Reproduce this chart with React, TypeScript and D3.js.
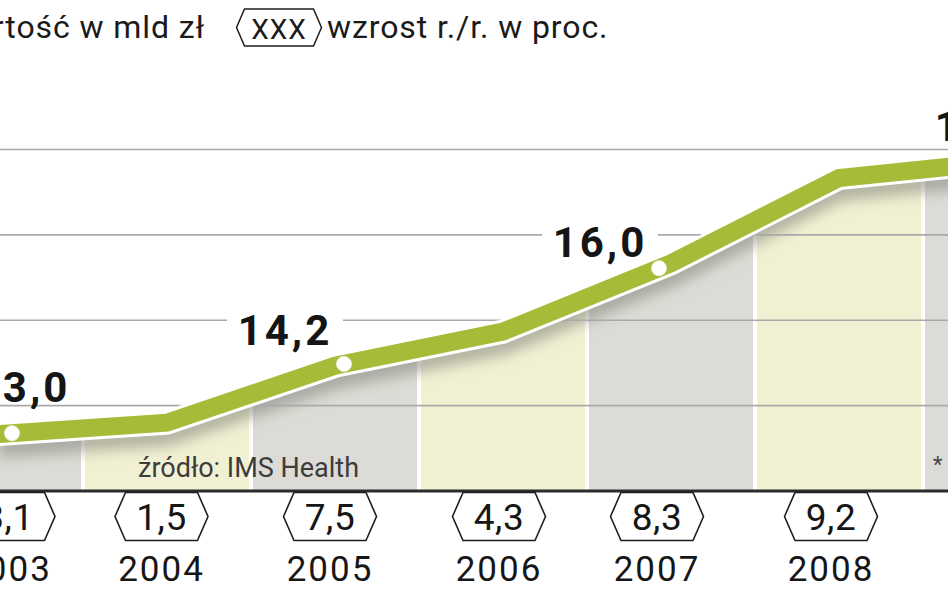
import React from 'react';
import * as d3 from 'd3';

// ---- data ----
const years = ['2003', '2004', '2005', '2006', '2007', '2008', '2009'];
const values = [13.0, 13.2, 14.2, 14.8, 16.0, 17.5, 17.8];
const growth = ['3,1', '1,5', '7,5', '4,3', '8,3', '9,2', '2,0'];
const labeledYears = ['2003', '2005', '2007', '2009'];
const valueLabels = ['13,0', '14,2', '16,0', '17,8'];
const dottedYears = ['2003', '2005', '2007'];
const gridTicks = [13.5, 15, 16.5, 18];
const titleText = 'Wartość w mld zł';
const legendSample = 'XXX';
const legendText = 'wzrost r./r. w proc.';
const sourceText = 'źródło: IMS Health';
const footnoteMark = '*';

// ---- layout ----
const W = 948;
const H = 593;
const FONT = 'Roboto, "DejaVu Sans", sans-serif';
const BASE_Y = 491;
const STEP = 168;
const X0 = -85;
const labelShift = [9.5, -5.5, -5, -4, -14, -8, 0];
const dotShift: Record<string, number> = { '2003': 13, '2005': 9, '2007': -12 };
const valLabelDx = [24, -50, -71, -25];
const valLabelDy = [-32, -21, -6, -20];
const colColors = ['#dcdbd5', '#f1f0d2'];
const GREEN = '#a5bc38';

function hexPath(cx: number, top: number, w: number, h: number, tip: number) {
  const l = cx - w / 2;
  const r = cx + w / 2;
  const m = top + h / 2;
  const b = top + h;
  return `M${l},${m}L${l + tip},${top}L${r - tip},${top}L${r},${m}L${r - tip},${b}L${l + tip},${b}Z`;
}

export default function App() {
  const x = d3.scaleBand<string>().domain(years).range([X0, X0 + STEP * years.length]).padding(0);
  const bw = x.bandwidth();
  const cx = (yr: string) => (x(yr) as number) + bw / 2;
  const y = d3.scaleLinear().domain([12, 18]).range([BASE_Y, 149.5]);

  const pts = years.map((yr, i) => ({ yr, v: values[i] }));
  const lineGen = d3.line<{ yr: string; v: number }>().x((d) => cx(d.yr)).y((d) => y(d.v));
  const areaGen = d3
    .area<{ yr: string; v: number }>()
    .x((d) => cx(d.yr))
    .y0(BASE_Y)
    .y1((d) => y(d.v));
  const linePath = lineGen(pts) || '';
  const areaPath = areaGen(pts) || '';

  const lineYAt = (px: number) => {
    const xs = pts.map((p) => cx(p.yr));
    for (let i = 0; i < xs.length - 1; i++) {
      if (px >= xs[i] && px <= xs[i + 1]) {
        const t = (px - xs[i]) / (xs[i + 1] - xs[i]);
        return y(pts[i].v) + t * (y(pts[i + 1].v) - y(pts[i].v));
      }
    }
    return y(pts[0].v);
  };

  return (
    <svg
      width={W}
      height={H}
      viewBox={`0 0 ${W} ${H}`}
      style={{ position: 'absolute', left: 0, top: 0, background: '#fff' }}
      fontFamily={FONT}
    >
      <defs>
        <clipPath id="underLine">
          <path d={areaPath} />
        </clipPath>
        <filter id="blur" x="-10%" y="-50%" width="120%" height="200%">
          <feGaussianBlur stdDeviation="7" />
        </filter>
      </defs>
      <rect x={0} y={0} width={W} height={H} fill="#fff" />

      {/* columns under the line */}
      <g clipPath="url(#underLine)">
        {years.map((yr, i) => (
          <rect
            key={yr}
            x={(x(yr) as number) + 2}
            y={0}
            width={bw - 4}
            height={BASE_Y}
            fill={colColors[i % 2]}
          />
        ))}
        <path
          d={linePath}
          transform="translate(0,13)"
          fill="none"
          stroke="#85857f"
          strokeOpacity={0.6}
          strokeWidth={20}
          filter="url(#blur)"
        />
      </g>

      {/* gridlines */}
      {gridTicks.map((t) => (
        <line key={t} x1={0} x2={W} y1={y(t)} y2={y(t)} stroke="#a9a9a9" strokeWidth={1.6} />
      ))}

      {/* value labels */}
      {labeledYears.map((yr, i) => {
        const v = values[years.indexOf(yr)];
        const lx = cx(yr) + valLabelDx[i];
        const ly = y(v) + valLabelDy[i];
        return (
          <g key={yr}>
            <rect x={lx - 58} y={ly - 32} width={116} height={33} fill="#fff" />
            <text
              x={lx}
              y={ly}
              textAnchor="middle"
              fontSize={42}
              fontWeight={700}
              letterSpacing={3}
              fill="#151515"
            >
              {valueLabels[i]}
            </text>
          </g>
        );
      })}

      {/* line */}
      <path d={linePath} fill="none" stroke="#fff" strokeWidth={24} strokeLinejoin="miter" />
      <path d={linePath} fill="none" stroke={GREEN} strokeWidth={18} strokeLinejoin="miter" />

      {/* dots */}
      {dottedYears.map((yr) => {
        const px = cx(yr) + dotShift[yr];
        return <circle key={yr} cx={px} cy={lineYAt(px)} r={7.5} fill="#fff" stroke="#eef0e0" strokeWidth={1} />;
      })}

      {/* source + footnote */}
      <text x={138} y={477} fontSize={27} fill="#3c3c3c">
        {sourceText}
      </text>
      <text x={933} y={472} fontSize={22} fill="#444">
        {footnoteMark}
      </text>

      {/* baseline */}
      <line x1={0} x2={W} y1={BASE_Y} y2={BASE_Y} stroke="#2b2b2b" strokeWidth={3} />

      {/* hexagons + years */}
      {years.map((yr, i) => {
        const hx = cx(yr) + labelShift[i];
        return (
          <g key={yr}>
            <path d={hexPath(hx, BASE_Y + 1.5, 93, 48, 10.5)} fill="#fff" stroke="#1e1e1e" strokeWidth={1.6} />
            <text x={hx} y={530} textAnchor="middle" fontSize={37} fill="#161616" letterSpacing={0.5}>
              {growth[i]}
            </text>
            <text x={hx} y={581} textAnchor="middle" fontSize={35} fill="#161616" letterSpacing={2}>
              {yr}
            </text>
          </g>
        );
      })}

      {/* title + legend */}
      <text x={205} y={38} textAnchor="end" fontSize={32} fill="#1a1a1a" letterSpacing={0.9}>
        {titleText}
      </text>
      <path d={hexPath(279, 9, 85, 37, 8)} fill="#fff" stroke="#1e1e1e" strokeWidth={1.5} />
      <text x={279} y={39} textAnchor="middle" fontSize={28} fill="#1a1a1a" letterSpacing={1}>
        {legendSample}
      </text>
      <text x={327} y={38} fontSize={32} fill="#1a1a1a" letterSpacing={0.9}>
        {legendText}
      </text>
    </svg>
  );
}
